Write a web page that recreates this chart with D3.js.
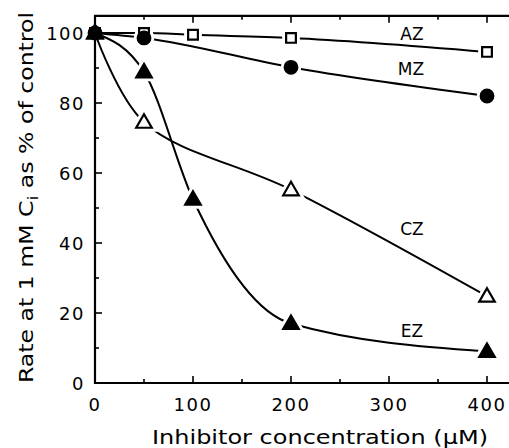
<!DOCTYPE html>
<html>
<head>
<meta charset="utf-8">
<script src="https://cdn.jsdelivr.net/npm/d3@7"></script>
<style>
  body { margin: 0; background: #fff; }
  svg text { font-family: "DejaVu Sans", sans-serif; fill: #000; }
</style>
</head>
<body>
<div id="chart"></div>
<script>
(function(){
    // inhibitor concentration (uM)
    const concAZ = [0, 50, 100, 200, 400];
    const rateAZ = [100, 100, 99.5, 98.6, 94.6];
    const concMZ = [0, 50, 200, 400];
    const rateMZ = [100, 98.6, 90.2, 82];
    const concCZ = [0, 50, 200, 400];
    const rateCZ = [100, 74.5, 55.2, 24.8];
    const concEZ = [0, 50, 100, 200, 400];
    const rateEZ = [100, 88.9, 52.5, 17, 9];

    const xTicks = [0, 100, 200, 300, 400];
    const xMinor = [50, 150, 250, 350];
    const yTicks = [0, 20, 40, 60, 80, 100];
    const yMinor = [10, 30, 50, 70, 90];

    const width = 509, height = 448;
    const margin = { top: 16, left: 95, bottom: 65, right: 0 };

    const svg = d3.select('#chart')
        .append('svg')
            .attr('width', width)
            .attr('height', height);

    const xScale = d3.scaleLinear()
        .domain([0, 430])
        .range([margin.left, margin.left + 430 * 0.98]);

    const yScale = d3.scaleLinear()
        .domain([0, 100])
        .range([height - margin.bottom, height - margin.bottom - 350]);

    const x0 = xScale(0), x1 = xScale(430);
    const y0 = yScale(0), y1 = yScale(104.9);

    // frame
    const frame = svg.append('g')
        .attr('stroke', '#000')
        .attr('stroke-width', 2.2)
        .attr('fill', 'none');
    frame.append('path')
        .attr('d', `M${x1},${y1}H${x0}V${y0}H${x1}`);

    // ticks pointing inward
    const tickG = svg.append('g').attr('stroke', '#000').attr('stroke-width', 1.6);
    xTicks.forEach(t => {
        tickG.append('line').attr('x1', xScale(t)).attr('x2', xScale(t)).attr('y1', y0).attr('y2', y0 - 7);
        tickG.append('line').attr('x1', xScale(t)).attr('x2', xScale(t)).attr('y1', y1).attr('y2', y1 + 7);
    });
    xMinor.forEach(t => {
        tickG.append('line').attr('x1', xScale(t)).attr('x2', xScale(t)).attr('y1', y0).attr('y2', y0 - 4);
        tickG.append('line').attr('x1', xScale(t)).attr('x2', xScale(t)).attr('y1', y1).attr('y2', y1 + 4);
    });
    yTicks.forEach(t => {
        tickG.append('line').attr('x1', x0).attr('x2', x0 + 7).attr('y1', yScale(t)).attr('y2', yScale(t));
    });
    yMinor.forEach(t => {
        tickG.append('line').attr('x1', x0).attr('x2', x0 + 4).attr('y1', yScale(t)).attr('y2', yScale(t));
    });

    // tick labels
    svg.append('g').selectAll('text')
        .data(xTicks)
        .enter()
        .append('text')
            .attr('x', d => xScale(d))
            .attr('y', y0 + 28)
            .style('text-anchor', 'middle')
            .style('font-size', '18px')
            .style('letter-spacing', '1.5px')
            .text(d => d);

    svg.append('g').selectAll('text')
        .data(yTicks)
        .enter()
        .append('text')
            .attr('x', x0 - 10)
            .attr('y', d => yScale(d) + 6.5)
            .style('text-anchor', 'end')
            .style('font-size', '18px')
            .style('letter-spacing', '1.5px')
            .text(d => d);

    // axis titles
    svg.append('text')
        .attr('x', 152)
        .attr('y', 444)
        .attr('textLength', 336)
        .attr('lengthAdjust', 'spacingAndGlyphs')
        .style('font-size', '19px')
        .text('Inhibitor concentration (\u03bcM)');

    const yTitle = svg.append('text')
        .attr('transform', `translate(33, 383) rotate(-90)`)
        .attr('textLength', 371)
        .attr('lengthAdjust', 'spacingAndGlyphs')
        .style('font-size', '19px');
    yTitle.append('tspan').text('Rate at 1 mM C');
    yTitle.append('tspan').attr('dy', 5).style('font-size', '14px').text('i');
    yTitle.append('tspan').attr('dy', -5).text(' as % of control');

    const series = [
        { name: 'AZ', xs: concAZ, ys: rateAZ, shape: 'square', fill: '#fff', lx: 412, ly: 40, curve: d3.curveMonotoneX },
        { name: 'MZ', xs: concMZ, ys: rateMZ, shape: 'circle', fill: '#000', lx: 411, ly: 75, curve: d3.curveMonotoneX },
        { name: 'CZ', xs: concCZ, ys: rateCZ, shape: 'triangle', fill: '#fff', lx: 412, ly: 235, curve: d3.curveCatmullRom.alpha(0.5) },
        { name: 'EZ', xs: concEZ, ys: rateEZ, shape: 'triangle', fill: '#000', lx: 412, ly: 337, curve: d3.curveMonotoneX },
    ];

    const symbolType = {
        square: d3.symbolSquare,
        circle: d3.symbolCircle,
        triangle: d3.symbolTriangle,
    };
    const symbolSize = { square: 95, circle: 125, triangle: 105 };

    series.forEach(s => {
        const pts = s.xs.map((x, i) => [x, s.ys[i]]);
        const line = d3.line()
            .x(d => xScale(d[0]))
            .y(d => yScale(d[1]))
            .curve(s.curve);
        svg.append('path')
            .datum(pts)
            .attr('d', line)
            .attr('fill', 'none')
            .attr('stroke', '#000')
            .attr('stroke-width', 2);
    });

    // white halos make the line gaps around markers
    series.forEach(s => {
        const pts = s.xs.map((x, i) => [x, s.ys[i]]);
        const sym = d3.symbol().type(symbolType[s.shape]).size(symbolSize[s.shape]);
        svg.append('g').selectAll('path')
            .data(pts.slice(1))
            .enter()
            .append('path')
                .attr('transform', d => `translate(${xScale(d[0])}, ${yScale(d[1]) + (s.shape === 'triangle' ? 1 : 0)})`)
                .attr('d', sym)
                .attr('fill', '#fff')
                .attr('stroke', '#fff')
                .attr('stroke-width', 8);
    });

    series.forEach(s => {
        const pts = s.xs.map((x, i) => [x, s.ys[i]]);
        const sym = d3.symbol().type(symbolType[s.shape]).size(symbolSize[s.shape]);
        svg.append('g').selectAll('path')
            .data(pts)
            .enter()
            .append('path')
                .attr('transform', d => `translate(${xScale(d[0])}, ${yScale(d[1]) + (s.shape === 'triangle' ? 1 : 0)})`)
                .attr('d', sym)
                .attr('fill', s.fill)
                .attr('stroke', '#000')
                .attr('stroke-width', 2.2);

        svg.append('text')
            .attr('x', s.lx)
            .attr('y', s.ly)
            .style('text-anchor', 'middle')
            .style('font-size', '17px')
            .text(s.name);
    });
}());
</script>
</body>
</html>
